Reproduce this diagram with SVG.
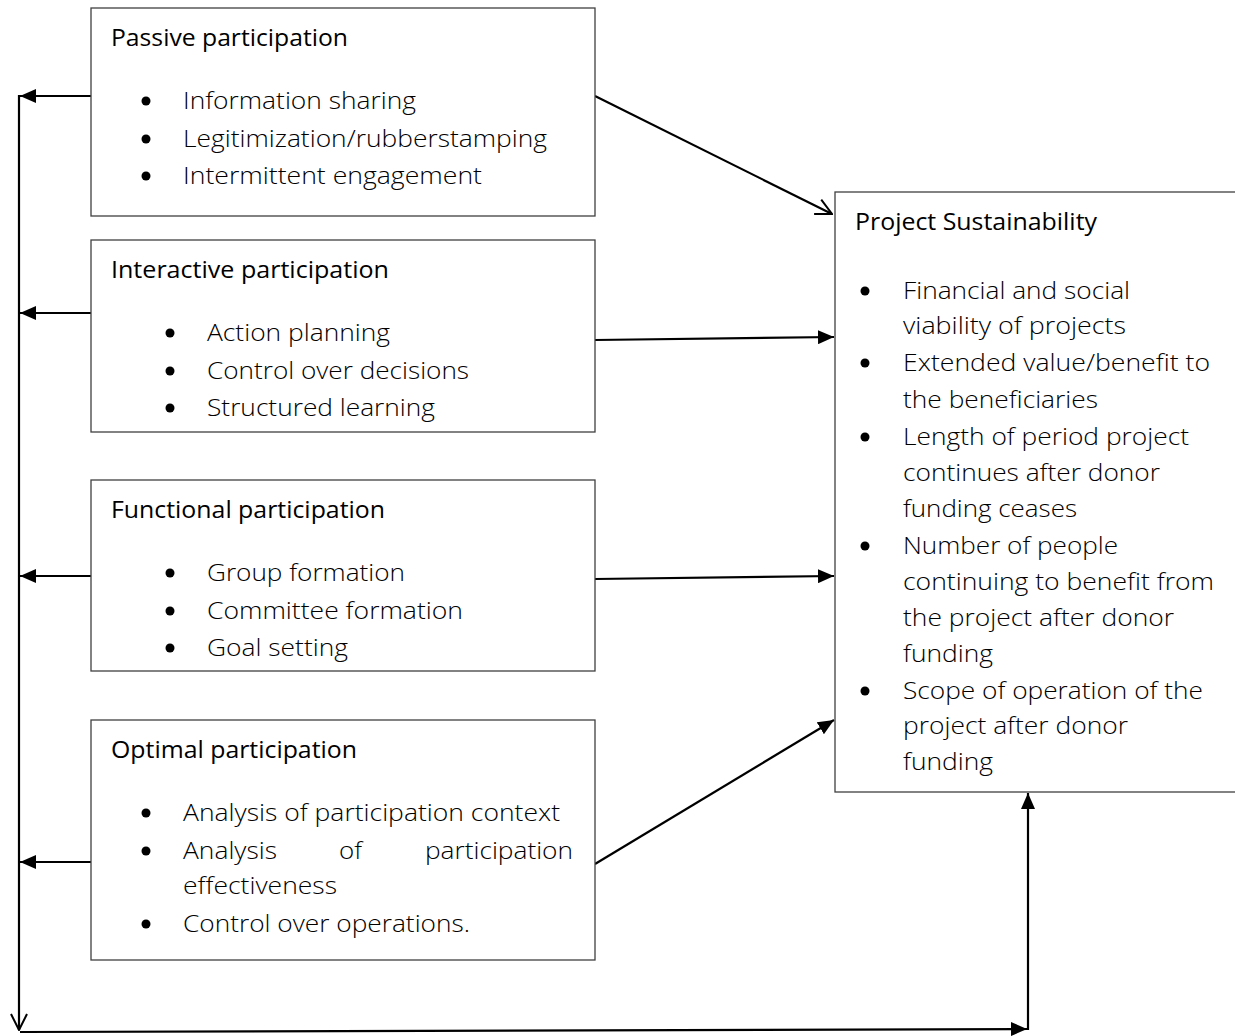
<svg xmlns="http://www.w3.org/2000/svg" width="1235" height="1036" viewBox="0 0 1235 1036">
<style>
.box{fill:#fff;stroke:#404040;stroke-width:1.3}
.t{font-family:"Open Sans","Liberation Sans",sans-serif;font-size:23px;fill:#000;font-weight:400}
.b{font-family:"Open Sans","Liberation Sans",sans-serif;font-size:23px;fill:#000;font-weight:300}
.dot{fill:#000}
.c{fill:none;stroke:#000;stroke-width:2.2}
</style>
<defs>
<marker id="fa" viewBox="0 0 16 14" refX="16" refY="7" markerWidth="16" markerHeight="14" markerUnits="userSpaceOnUse" orient="auto">
<path d="M0,0 L16,7 L0,14 Z" fill="#000"/>
</marker>
<marker id="oa" viewBox="0 0 20 20" refX="19" refY="10" markerWidth="20" markerHeight="20" markerUnits="userSpaceOnUse" orient="auto">
<path d="M3,2 L19,10 L3,18" fill="none" stroke="#000" stroke-width="2"/>
</marker>
</defs>
<g id="connectors">
<line class="c" x1="19" y1="95" x2="19" y2="1030" marker-end="url(#oa)"/>
<line class="c" x1="91" y1="96" x2="20" y2="96" marker-end="url(#fa)"/>
<line class="c" x1="91" y1="313" x2="20" y2="313" marker-end="url(#fa)"/>
<line class="c" x1="91" y1="576" x2="20" y2="576" marker-end="url(#fa)"/>
<line class="c" x1="91" y1="862" x2="20" y2="862" marker-end="url(#fa)"/>
<line class="c" x1="20" y1="1032" x2="1027" y2="1029" marker-end="url(#fa)"/>
<line class="c" x1="1028" y1="1030" x2="1028" y2="793" marker-end="url(#fa)"/>
<line class="c" x1="595" y1="96" x2="832" y2="214" marker-end="url(#oa)"/>
<line class="c" x1="595" y1="340" x2="834" y2="337" marker-end="url(#fa)"/>
<line class="c" x1="595" y1="579" x2="834" y2="576" marker-end="url(#fa)"/>
<line class="c" x1="595" y1="864" x2="834" y2="720" marker-end="url(#fa)"/>
</g>
<g id="passive">
<rect class="box" x="91" y="8" width="504" height="208"/>
<text class="t" x="111" y="46" textLength="237" lengthAdjust="spacingAndGlyphs">Passive participation</text>
<circle class="dot" cx="146" cy="101" r="4.5"/><text class="b" x="183" y="109" textLength="233" lengthAdjust="spacingAndGlyphs">Information sharing</text>
<circle class="dot" cx="146" cy="139" r="4.5"/><text class="b" x="183" y="147" textLength="364" lengthAdjust="spacingAndGlyphs">Legitimization/rubberstamping</text>
<circle class="dot" cx="146" cy="176" r="4.5"/><text class="b" x="183" y="184" textLength="299" lengthAdjust="spacingAndGlyphs">Intermittent engagement</text>
</g>
<g id="interactive">
<rect class="box" x="91" y="240" width="504" height="192"/>
<text class="t" x="111" y="278" textLength="278" lengthAdjust="spacingAndGlyphs">Interactive participation</text>
<circle class="dot" cx="170" cy="333" r="4.5"/><text class="b" x="207" y="341" textLength="183" lengthAdjust="spacingAndGlyphs">Action planning</text>
<circle class="dot" cx="170" cy="371" r="4.5"/><text class="b" x="207" y="379" textLength="262" lengthAdjust="spacingAndGlyphs">Control over decisions</text>
<circle class="dot" cx="170" cy="408" r="4.5"/><text class="b" x="207" y="416" textLength="228" lengthAdjust="spacingAndGlyphs">Structured learning</text>
</g>
<g id="functional">
<rect class="box" x="91" y="480" width="504" height="191"/>
<text class="t" x="111" y="518" textLength="274" lengthAdjust="spacingAndGlyphs">Functional participation</text>
<circle class="dot" cx="170" cy="573" r="4.5"/><text class="b" x="207" y="581" textLength="198" lengthAdjust="spacingAndGlyphs">Group formation</text>
<circle class="dot" cx="170" cy="611" r="4.5"/><text class="b" x="207" y="619" textLength="256" lengthAdjust="spacingAndGlyphs">Committee formation</text>
<circle class="dot" cx="170" cy="648" r="4.5"/><text class="b" x="207" y="656" textLength="141" lengthAdjust="spacingAndGlyphs">Goal setting</text>
</g>
<g id="optimal">
<rect class="box" x="91" y="720" width="504" height="240"/>
<text class="t" x="111" y="758" textLength="246" lengthAdjust="spacingAndGlyphs">Optimal participation</text>
<circle class="dot" cx="146" cy="813" r="4.5"/><text class="b" x="183" y="821" textLength="377" lengthAdjust="spacingAndGlyphs">Analysis of participation context</text>
<circle class="dot" cx="146" cy="851" r="4.5"/>
<text class="b" x="183" y="859" textLength="94" lengthAdjust="spacingAndGlyphs">Analysis</text>
<text class="b" x="339" y="859" textLength="23" lengthAdjust="spacingAndGlyphs">of</text>
<text class="b" x="425" y="859" textLength="148" lengthAdjust="spacingAndGlyphs">participation</text>
<text class="b" x="183" y="894" textLength="154" lengthAdjust="spacingAndGlyphs">effectiveness</text>
<circle class="dot" cx="146" cy="924" r="4.5"/><text class="b" x="183" y="932" textLength="287" lengthAdjust="spacingAndGlyphs">Control over operations.</text>
</g>
<g id="sustainability">
<rect class="box" x="835" y="192" width="405" height="600"/>
<text class="t" x="855" y="230" textLength="242" lengthAdjust="spacingAndGlyphs">Project Sustainability</text>
<circle class="dot" cx="865" cy="291" r="4.5"/>
<text class="b" x="903" y="299" textLength="227" lengthAdjust="spacingAndGlyphs">Financial and social</text>
<text class="b" x="903" y="334" textLength="223" lengthAdjust="spacingAndGlyphs">viability of projects</text>
<circle class="dot" cx="865" cy="363" r="4.5"/>
<text class="b" x="903" y="371" textLength="307" lengthAdjust="spacingAndGlyphs">Extended value/benefit to</text>
<text class="b" x="903" y="408" textLength="195" lengthAdjust="spacingAndGlyphs">the beneficiaries</text>
<circle class="dot" cx="865" cy="437" r="4.5"/>
<text class="b" x="903" y="445" textLength="286" lengthAdjust="spacingAndGlyphs">Length of period project</text>
<text class="b" x="903" y="481" textLength="257" lengthAdjust="spacingAndGlyphs">continues after donor</text>
<text class="b" x="903" y="517" textLength="174" lengthAdjust="spacingAndGlyphs">funding ceases</text>
<circle class="dot" cx="865" cy="546" r="4.5"/>
<text class="b" x="903" y="554" textLength="215" lengthAdjust="spacingAndGlyphs">Number of people</text>
<text class="b" x="903" y="590" textLength="311" lengthAdjust="spacingAndGlyphs">continuing to benefit from</text>
<text class="b" x="903" y="626" textLength="271" lengthAdjust="spacingAndGlyphs">the project after donor</text>
<text class="b" x="903" y="662" textLength="90" lengthAdjust="spacingAndGlyphs">funding</text>
<circle class="dot" cx="865" cy="691" r="4.5"/>
<text class="b" x="903" y="699" textLength="300" lengthAdjust="spacingAndGlyphs">Scope of operation of the</text>
<text class="b" x="903" y="734" textLength="225" lengthAdjust="spacingAndGlyphs">project after donor</text>
<text class="b" x="903" y="770" textLength="90" lengthAdjust="spacingAndGlyphs">funding</text>
</g>
</svg>
